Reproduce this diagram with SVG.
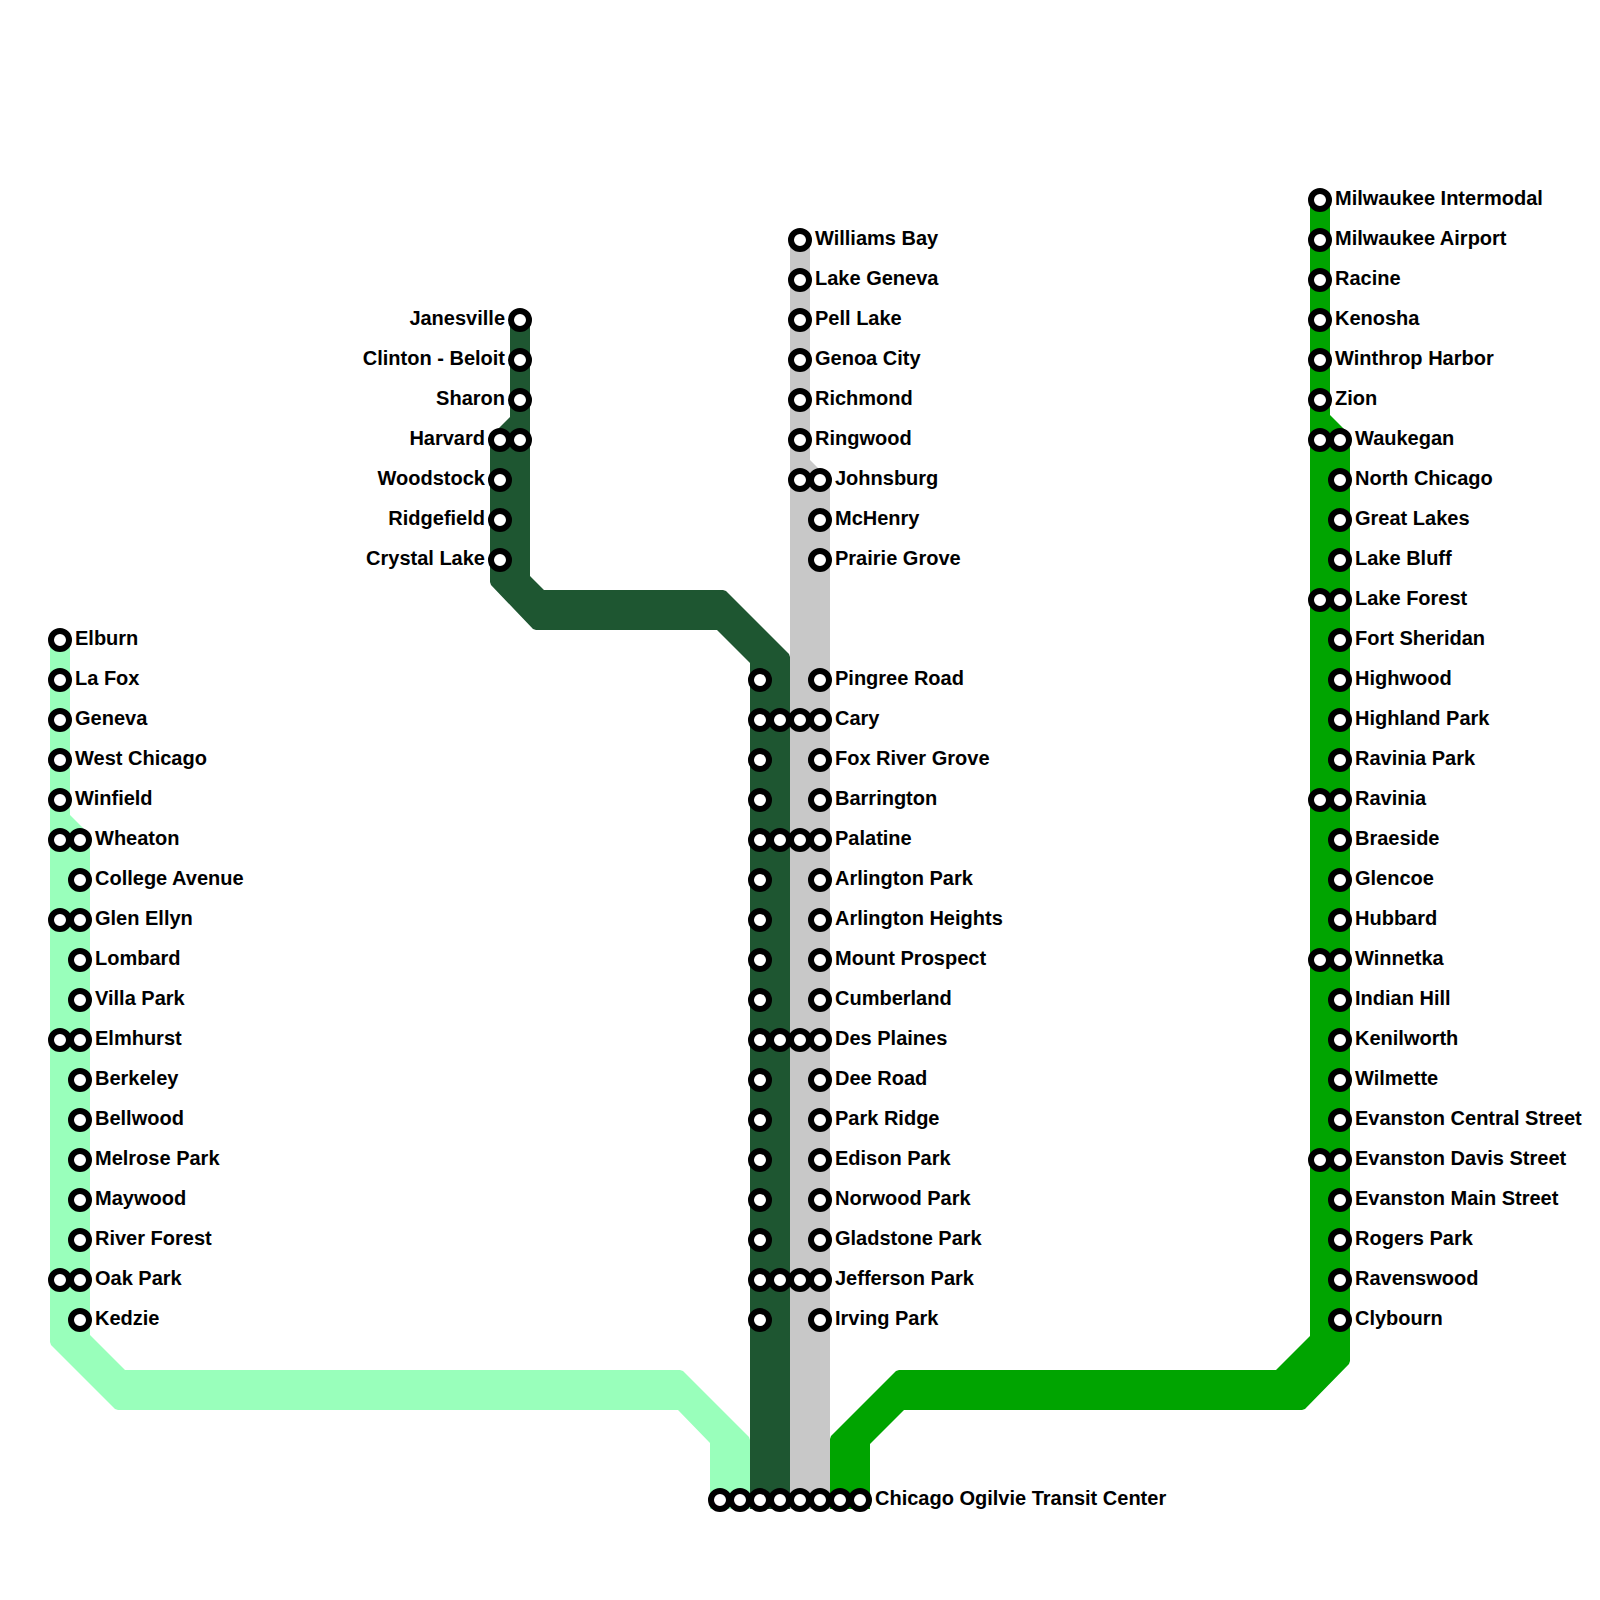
<svg xmlns="http://www.w3.org/2000/svg" width="1600" height="1600" viewBox="0 0 1600 1600">
<style>
text{font-family:"Liberation Sans",Arial,sans-serif;font-weight:bold;font-size:20px;fill:#000}
.e{text-anchor:end}
circle{fill:#fff;stroke:#000;stroke-width:6}
</style>
<rect width="1600" height="1600" fill="#fff"/>
<g id="connectors">
<path id="line-west" fill="#99ffbb" d="M50 640H70V815L90 835V1335L125 1370H680L683 1371L749 1437L750 1440V1509H710V1443L678 1410H118L115 1409L51 1345L50 1342Z"/>
<path id="line-northwest-dark" fill="#1e5631" d="M510 320H530V576L544 590H723L726 591L789 654L790 657V1509H750V663L717 630H536L533 629L491 585L490 582V437L510 417Z"/>
<path id="line-northwest" fill="#c8c8c8" d="M790 240H810V460L830 480V1509H790Z"/>
<path id="line-north" fill="#00a400" d="M1310 200H1330V415L1350 435V1361L1349 1364L1305 1409L1302 1410H904L870 1444V1509H830V1439L831 1436L896 1371L899 1370H1276L1310 1336Z"/>
</g>
<g id="s-elburn"><circle cx="60" cy="640" r="9"/><text x="75" y="645">Elburn</text></g>
<g id="s-lafox"><circle cx="60" cy="680" r="9"/><text x="75" y="685">La Fox</text></g>
<g id="s-geneva"><circle cx="60" cy="720" r="9"/><text x="75" y="725">Geneva</text></g>
<g id="s-westchicago"><circle cx="60" cy="760" r="9"/><text x="75" y="765">West Chicago</text></g>
<g id="s-winfield"><circle cx="60" cy="800" r="9"/><text x="75" y="805">Winfield</text></g>
<g id="s-wheaton"><circle cx="60" cy="840" r="9"/><circle cx="80" cy="840" r="9"/><text x="95" y="845">Wheaton</text></g>
<g id="s-collegeavenue"><circle cx="80" cy="880" r="9"/><text x="95" y="885">College Avenue</text></g>
<g id="s-glenellyn"><circle cx="60" cy="920" r="9"/><circle cx="80" cy="920" r="9"/><text x="95" y="925">Glen Ellyn</text></g>
<g id="s-lombard"><circle cx="80" cy="960" r="9"/><text x="95" y="965">Lombard</text></g>
<g id="s-villapark"><circle cx="80" cy="1000" r="9"/><text x="95" y="1005">Villa Park</text></g>
<g id="s-elmhurst"><circle cx="60" cy="1040" r="9"/><circle cx="80" cy="1040" r="9"/><text x="95" y="1045">Elmhurst</text></g>
<g id="s-berkeley"><circle cx="80" cy="1080" r="9"/><text x="95" y="1085">Berkeley</text></g>
<g id="s-bellwood"><circle cx="80" cy="1120" r="9"/><text x="95" y="1125">Bellwood</text></g>
<g id="s-melrosepark"><circle cx="80" cy="1160" r="9"/><text x="95" y="1165">Melrose Park</text></g>
<g id="s-maywood"><circle cx="80" cy="1200" r="9"/><text x="95" y="1205">Maywood</text></g>
<g id="s-riverforest"><circle cx="80" cy="1240" r="9"/><text x="95" y="1245">River Forest</text></g>
<g id="s-oakpark"><circle cx="60" cy="1280" r="9"/><circle cx="80" cy="1280" r="9"/><text x="95" y="1285">Oak Park</text></g>
<g id="s-kedzie"><circle cx="80" cy="1320" r="9"/><text x="95" y="1325">Kedzie</text></g>
<g id="s-janesville"><circle cx="520" cy="320" r="9"/><text class="e" x="505" y="325">Janesville</text></g>
<g id="s-clintonbeloit"><circle cx="520" cy="360" r="9"/><text class="e" x="505" y="365">Clinton - Beloit</text></g>
<g id="s-sharon"><circle cx="520" cy="400" r="9"/><text class="e" x="505" y="405">Sharon</text></g>
<g id="s-harvard"><circle cx="500" cy="440" r="9"/><circle cx="520" cy="440" r="9"/><text class="e" x="485" y="445">Harvard</text></g>
<g id="s-woodstock"><circle cx="500" cy="480" r="9"/><text class="e" x="485" y="485">Woodstock</text></g>
<g id="s-ridgefield"><circle cx="500" cy="520" r="9"/><text class="e" x="485" y="525">Ridgefield</text></g>
<g id="s-crystallake"><circle cx="500" cy="560" r="9"/><text class="e" x="485" y="565">Crystal Lake</text></g>
<g id="s-williamsbay"><circle cx="800" cy="240" r="9"/><text x="815" y="245">Williams Bay</text></g>
<g id="s-lakegeneva"><circle cx="800" cy="280" r="9"/><text x="815" y="285">Lake Geneva</text></g>
<g id="s-pelllake"><circle cx="800" cy="320" r="9"/><text x="815" y="325">Pell Lake</text></g>
<g id="s-genoacity"><circle cx="800" cy="360" r="9"/><text x="815" y="365">Genoa City</text></g>
<g id="s-richmond"><circle cx="800" cy="400" r="9"/><text x="815" y="405">Richmond</text></g>
<g id="s-ringwood"><circle cx="800" cy="440" r="9"/><text x="815" y="445">Ringwood</text></g>
<g id="s-johnsburg"><circle cx="800" cy="480" r="9"/><circle cx="820" cy="480" r="9"/><text x="835" y="485">Johnsburg</text></g>
<g id="s-mchenry"><circle cx="820" cy="520" r="9"/><text x="835" y="525">McHenry</text></g>
<g id="s-prairiegrove"><circle cx="820" cy="560" r="9"/><text x="835" y="565">Prairie Grove</text></g>
<g id="s-pingreeroad"><circle cx="760" cy="680" r="9"/><circle cx="820" cy="680" r="9"/><text x="835" y="685">Pingree Road</text></g>
<g id="s-cary"><circle cx="760" cy="720" r="9"/><circle cx="780" cy="720" r="9"/><circle cx="800" cy="720" r="9"/><circle cx="820" cy="720" r="9"/><text x="835" y="725">Cary</text></g>
<g id="s-foxrivergrove"><circle cx="760" cy="760" r="9"/><circle cx="820" cy="760" r="9"/><text x="835" y="765">Fox River Grove</text></g>
<g id="s-barrington"><circle cx="760" cy="800" r="9"/><circle cx="820" cy="800" r="9"/><text x="835" y="805">Barrington</text></g>
<g id="s-palatine"><circle cx="760" cy="840" r="9"/><circle cx="780" cy="840" r="9"/><circle cx="800" cy="840" r="9"/><circle cx="820" cy="840" r="9"/><text x="835" y="845">Palatine</text></g>
<g id="s-arlingtonpark"><circle cx="760" cy="880" r="9"/><circle cx="820" cy="880" r="9"/><text x="835" y="885">Arlington Park</text></g>
<g id="s-arlingtonheights"><circle cx="760" cy="920" r="9"/><circle cx="820" cy="920" r="9"/><text x="835" y="925">Arlington Heights</text></g>
<g id="s-mountprospect"><circle cx="760" cy="960" r="9"/><circle cx="820" cy="960" r="9"/><text x="835" y="965">Mount Prospect</text></g>
<g id="s-cumberland"><circle cx="760" cy="1000" r="9"/><circle cx="820" cy="1000" r="9"/><text x="835" y="1005">Cumberland</text></g>
<g id="s-desplaines"><circle cx="760" cy="1040" r="9"/><circle cx="780" cy="1040" r="9"/><circle cx="800" cy="1040" r="9"/><circle cx="820" cy="1040" r="9"/><text x="835" y="1045">Des Plaines</text></g>
<g id="s-deeroad"><circle cx="760" cy="1080" r="9"/><circle cx="820" cy="1080" r="9"/><text x="835" y="1085">Dee Road</text></g>
<g id="s-parkridge"><circle cx="760" cy="1120" r="9"/><circle cx="820" cy="1120" r="9"/><text x="835" y="1125">Park Ridge</text></g>
<g id="s-edisonpark"><circle cx="760" cy="1160" r="9"/><circle cx="820" cy="1160" r="9"/><text x="835" y="1165">Edison Park</text></g>
<g id="s-norwoodpark"><circle cx="760" cy="1200" r="9"/><circle cx="820" cy="1200" r="9"/><text x="835" y="1205">Norwood Park</text></g>
<g id="s-gladstonepark"><circle cx="760" cy="1240" r="9"/><circle cx="820" cy="1240" r="9"/><text x="835" y="1245">Gladstone Park</text></g>
<g id="s-jeffersonpark"><circle cx="760" cy="1280" r="9"/><circle cx="780" cy="1280" r="9"/><circle cx="800" cy="1280" r="9"/><circle cx="820" cy="1280" r="9"/><text x="835" y="1285">Jefferson Park</text></g>
<g id="s-irvingpark"><circle cx="760" cy="1320" r="9"/><circle cx="820" cy="1320" r="9"/><text x="835" y="1325">Irving Park</text></g>
<g id="s-ogilvie"><circle cx="720" cy="1500" r="9"/><circle cx="740" cy="1500" r="9"/><circle cx="760" cy="1500" r="9"/><circle cx="780" cy="1500" r="9"/><circle cx="800" cy="1500" r="9"/><circle cx="820" cy="1500" r="9"/><circle cx="840" cy="1500" r="9"/><circle cx="860" cy="1500" r="9"/><text x="875" y="1505">Chicago Ogilvie Transit Center</text></g>
<g id="s-milwaukeeintermodal"><circle cx="1320" cy="200" r="9"/><text x="1335" y="205">Milwaukee Intermodal</text></g>
<g id="s-milwaukeeairport"><circle cx="1320" cy="240" r="9"/><text x="1335" y="245">Milwaukee Airport</text></g>
<g id="s-racine"><circle cx="1320" cy="280" r="9"/><text x="1335" y="285">Racine</text></g>
<g id="s-kenosha"><circle cx="1320" cy="320" r="9"/><text x="1335" y="325">Kenosha</text></g>
<g id="s-winthropharbor"><circle cx="1320" cy="360" r="9"/><text x="1335" y="365">Winthrop Harbor</text></g>
<g id="s-zion"><circle cx="1320" cy="400" r="9"/><text x="1335" y="405">Zion</text></g>
<g id="s-waukegan"><circle cx="1320" cy="440" r="9"/><circle cx="1340" cy="440" r="9"/><text x="1355" y="445">Waukegan</text></g>
<g id="s-northchicago"><circle cx="1340" cy="480" r="9"/><text x="1355" y="485">North Chicago</text></g>
<g id="s-greatlakes"><circle cx="1340" cy="520" r="9"/><text x="1355" y="525">Great Lakes</text></g>
<g id="s-lakebluff"><circle cx="1340" cy="560" r="9"/><text x="1355" y="565">Lake Bluff</text></g>
<g id="s-lakeforest"><circle cx="1320" cy="600" r="9"/><circle cx="1340" cy="600" r="9"/><text x="1355" y="605">Lake Forest</text></g>
<g id="s-fortsheridan"><circle cx="1340" cy="640" r="9"/><text x="1355" y="645">Fort Sheridan</text></g>
<g id="s-highwood"><circle cx="1340" cy="680" r="9"/><text x="1355" y="685">Highwood</text></g>
<g id="s-highlandpark"><circle cx="1340" cy="720" r="9"/><text x="1355" y="725">Highland Park</text></g>
<g id="s-raviniapark"><circle cx="1340" cy="760" r="9"/><text x="1355" y="765">Ravinia Park</text></g>
<g id="s-ravinia"><circle cx="1320" cy="800" r="9"/><circle cx="1340" cy="800" r="9"/><text x="1355" y="805">Ravinia</text></g>
<g id="s-braeside"><circle cx="1340" cy="840" r="9"/><text x="1355" y="845">Braeside</text></g>
<g id="s-glencoe"><circle cx="1340" cy="880" r="9"/><text x="1355" y="885">Glencoe</text></g>
<g id="s-hubbard"><circle cx="1340" cy="920" r="9"/><text x="1355" y="925">Hubbard</text></g>
<g id="s-winnetka"><circle cx="1320" cy="960" r="9"/><circle cx="1340" cy="960" r="9"/><text x="1355" y="965">Winnetka</text></g>
<g id="s-indianhill"><circle cx="1340" cy="1000" r="9"/><text x="1355" y="1005">Indian Hill</text></g>
<g id="s-kenilworth"><circle cx="1340" cy="1040" r="9"/><text x="1355" y="1045">Kenilworth</text></g>
<g id="s-wilmette"><circle cx="1340" cy="1080" r="9"/><text x="1355" y="1085">Wilmette</text></g>
<g id="s-evanstoncentral"><circle cx="1340" cy="1120" r="9"/><text x="1355" y="1125">Evanston Central Street</text></g>
<g id="s-evanstondavis"><circle cx="1320" cy="1160" r="9"/><circle cx="1340" cy="1160" r="9"/><text x="1355" y="1165">Evanston Davis Street</text></g>
<g id="s-evanstonmain"><circle cx="1340" cy="1200" r="9"/><text x="1355" y="1205">Evanston Main Street</text></g>
<g id="s-rogerspark"><circle cx="1340" cy="1240" r="9"/><text x="1355" y="1245">Rogers Park</text></g>
<g id="s-ravenswood"><circle cx="1340" cy="1280" r="9"/><text x="1355" y="1285">Ravenswood</text></g>
<g id="s-clybourn"><circle cx="1340" cy="1320" r="9"/><text x="1355" y="1325">Clybourn</text></g>
</svg>
